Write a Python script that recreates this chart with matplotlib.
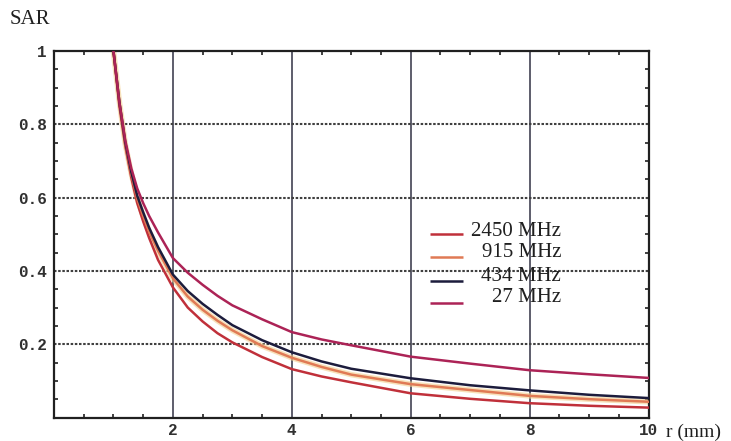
import matplotlib
matplotlib.use("Agg")
import matplotlib.pyplot as plt
from matplotlib.ticker import MultipleLocator

# ---- data ----
r_mm = [1.0, 1.1, 1.2, 1.3, 1.4, 1.5, 1.6, 1.75, 2.0, 2.25, 2.5, 2.75, 3.0,
        3.5, 4.0, 4.5, 5.0, 6.0, 7.0, 8.0, 9.0, 10.0]
sar_2450 = [1.0, 0.85, 0.74, 0.655, 0.585, 0.535, 0.49, 0.43, 0.355, 0.30, 0.262,
            0.23, 0.205, 0.165, 0.132, 0.112, 0.096, 0.066, 0.051, 0.039, 0.032, 0.027]
sar_915 = [1.0, 0.86, 0.745, 0.665, 0.597, 0.55, 0.507, 0.455, 0.38, 0.33, 0.294,
           0.264, 0.238, 0.195, 0.163, 0.138, 0.117, 0.091, 0.075, 0.059, 0.05, 0.043]
sar_434 = [1.0, 0.86, 0.75, 0.67, 0.605, 0.56, 0.518, 0.465, 0.39, 0.345, 0.31,
           0.28, 0.252, 0.211, 0.178, 0.153, 0.133, 0.107, 0.088, 0.074, 0.062, 0.053]
sar_27 = [1.0, 0.86, 0.755, 0.68, 0.625, 0.585, 0.55, 0.505, 0.435, 0.395, 0.362,
          0.332, 0.306, 0.268, 0.233, 0.213, 0.197, 0.166, 0.147, 0.129, 0.118, 0.108]
series_labels = ["2450 MHz", "915 MHz", "434 MHz", "27 MHz"]
x_ticks = [2, 4, 6, 8, 10]
y_ticks = [0.2, 0.4, 0.6, 0.8, 1.0]
y_tick_labels = ["0.2", "0.4", "0.6", "0.8", "1"]

colors = ["#c0303a", "#e07a55", "#1c1c3c", "#ac2356"]

fig = plt.figure(figsize=(7.31, 4.41), dpi=100)
ax = fig.add_axes([54 / 731, (441 - 417.5) / 441, 594.5 / 731, 366.5 / 441])

ax.set_xlim(0, 10)
ax.set_ylim(0, 1)

# grid
for xv in x_ticks[:-1]:
    ax.axvline(xv, color="#505060", lw=1.3, zorder=1)
for yv in y_ticks[:-1]:
    ax.axhline(yv, color="#404040", lw=1.5, ls=(0, (1.2, 0.8)), zorder=1)

# halo under the 915 MHz curve
ax.plot(r_mm, sar_915, color="#f3cf8e", lw=4.0, alpha=0.6, zorder=2,
        solid_capstyle="butt")

for ys, c in zip([sar_2450, sar_915, sar_434, sar_27], colors):
    ax.plot(r_mm, ys, color=c, lw=1.8, zorder=3)

# legend (right-aligned labels, no frame)
leg_line_y = [0.501, 0.438, 0.372, 0.312]
leg_text_y = [0.507, 0.451, 0.386, 0.328]
for c, lab, ly, ty in zip(colors, series_labels, leg_line_y, leg_text_y):
    ax.plot([0.632, 0.688], [ly, ly], color=c, lw=1.8, transform=ax.transAxes,
            zorder=4, solid_capstyle="butt")
    ax.text(0.853, ty, lab, transform=ax.transAxes, ha="right", va="center",
            family="Liberation Serif", fontsize=15, color="#202020", zorder=4)

ax.set_xticks(x_ticks)
ax.set_xticklabels([str(v) for v in x_ticks])
ax.set_yticks(y_ticks)
ax.set_yticklabels(y_tick_labels)
ax.xaxis.set_minor_locator(MultipleLocator(0.5))
ax.yaxis.set_minor_locator(MultipleLocator(0.05))
ax.tick_params(which="both", direction="in", top=True, right=True,
               colors="#202020", width=1.2)
ax.tick_params(which="major", length=0, pad=5)
ax.tick_params(axis="x", which="major", pad=4)
ax.tick_params(which="minor", length=3)
for lbl in ax.get_xticklabels() + ax.get_yticklabels():
    lbl.set_fontfamily("Liberation Mono")
    lbl.set_fontweight("bold")
    lbl.set_fontsize(11.5)
    lbl.set_color("#303030")

for sp in ax.spines.values():
    sp.set_color("#202020")
    sp.set_linewidth(1.6)

fig.text(10 / 731, 1 - 20 / 441, "SAR", family="Liberation Serif", fontsize=15,
         va="center", ha="left", color="#202020")
fig.text(666 / 731, 1 - 432 / 441, "r (mm)", family="Liberation Serif",
         fontsize=14, va="center", ha="left", color="#202020")

fig.savefig("out.png", dpi=100, facecolor="white")
